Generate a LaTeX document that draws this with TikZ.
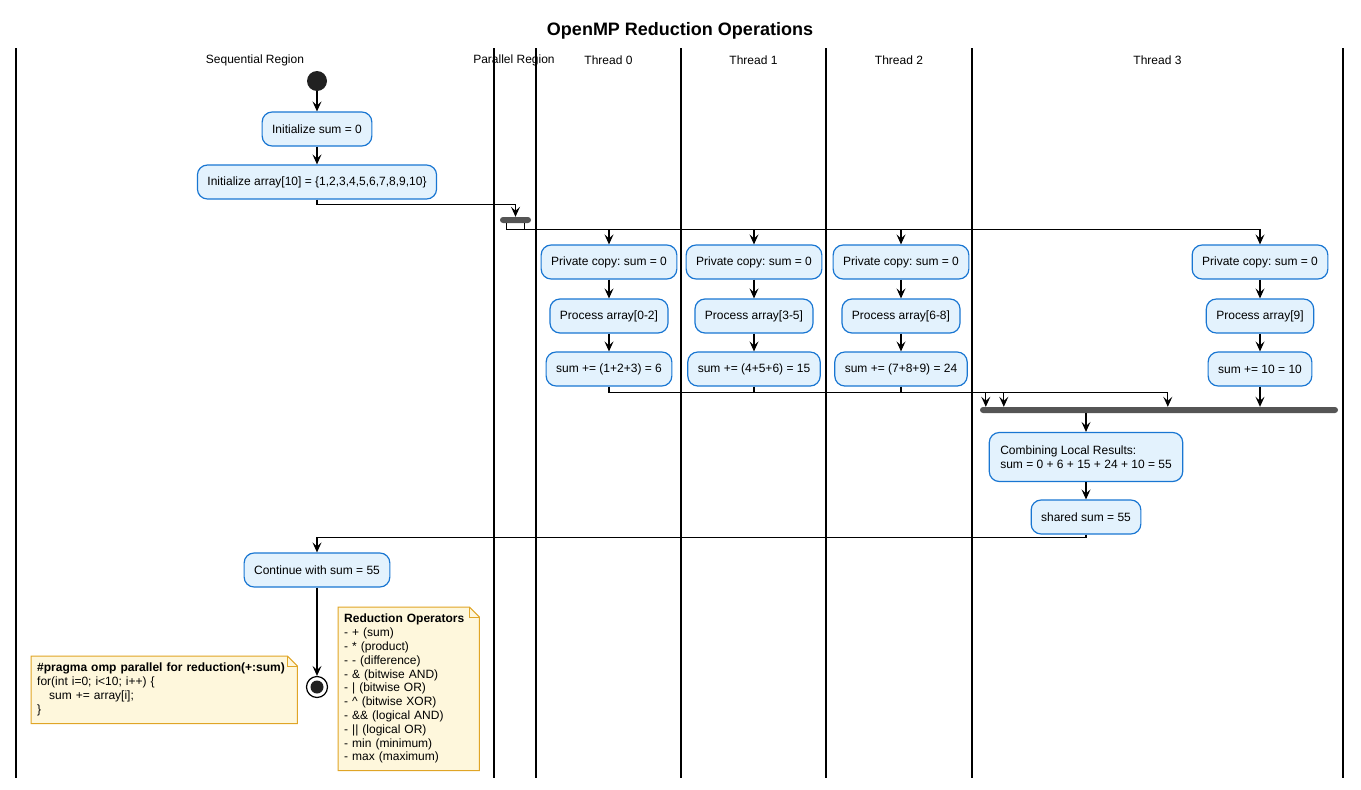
\documentclass[tikz,border=0pt]{standalone}
\usepackage{fontspec}
\setmainfont{Liberation Sans}
\usetikzlibrary{calc,arrows.meta,backgrounds}
\frenchspacing

\definecolor{actfill}{HTML}{E3F2FD}
\definecolor{actline}{HTML}{1976D2}
\definecolor{notefill}{HTML}{FEF7DC}
\definecolor{noteline}{HTML}{E0A526}
\definecolor{barfill}{HTML}{555555}

\begin{document}
\begin{tikzpicture}[x=1pt,y=-1pt,
	font=\fontsize{12}{14}\selectfont,
	action/.style={draw=actline,fill=actfill,line width=1.2pt,rounded corners=10pt,minimum height=34pt,inner xsep=10pt},
	flow/.style={line width=1.2pt,-{Stealth[length=10pt,width=9pt,inset=4pt]}},
	syncbar/.style={fill=barfill,rounded corners=3pt,minimum height=6pt,inner sep=0pt},
	note/.style={anchor=north west,align=left,inner xsep=6pt,inner ysep=7pt},
	lane/.style={line width=1.2pt}]
\useasboundingbox (0,0) rectangle (1361,790);

\node[font=\fontsize{18}{20}\selectfont\bfseries] (title) at (680,31) {OpenMP Reduction Operations};

\foreach \x in {16,494,536,681,826,972,1343}
	{
	\draw[lane] (\x,48) -- (\x,778);
	}
\node (hseq) at (255,60) {Sequential Region};
\node (hpar) at (514,60) {Parallel Region};

\node[circle,fill=black!87,minimum size=20pt,inner sep=0pt] (start) at (317,81) {};
\node[action] (init) at (317,129) {Initialize sum = 0};
\node[action] (arr) at (317,182) {Initialize array[10] = \{1,2,3,4,5,6,7,8,9,10\}};
\node[syncbar,minimum width=31pt] (fork) at (515.5,220) {};

\foreach \i/\x/\hx/\rng/\res in {0/609/608.5/0-2/{(1+2+3) = 6},1/754/753.5/3-5/{(4+5+6) = 15},2/901/899/6-8/{(7+8+9) = 24},3/1260/1157.5/9/{10 = 10}}
	{
	\node (hth\i) at (\hx,60) {Thread \i};
	\node[action] (pc\i) at (\x,262) {Private copy: sum = 0};
	\node[action] (pa\i) at (\x,316) {Process array[\rng]};
	\node[action] (sa\i) at (\x,369) {sum += \res};
	\draw[flow] (pc\i) -- (pa\i);
	\draw[flow] (pa\i) -- (sa\i);
	}

\node[syncbar,minimum width=358pt] (join) at (1159,410) {};
\node[action,align=left,minimum height=49pt,inner xsep=11pt] (comb) at (1086,457) {Combining Local Results:\\sum = 0 + 6 + 15 + 24 + 10 = 55};
\node[action] (shared) at (1086,517) {shared sum = 55};
\node[action] (cont) at (317,570) {Continue with sum = 55};
\node[circle,draw,line width=1.2pt,fill=white,minimum size=21pt,inner sep=0pt,
	path picture={\fill[black!87] (path picture bounding box.center) circle (6.5pt);}] (stop) at (317,687) {};

\node[note,text width=254pt,minimum height=65pt] (n1) at (31,656)
	{\textbf{\#pragma omp parallel for reduction(+:sum)}\\for(int i=0; i<10; i++) \{\\\hspace*{12pt}sum += array[i];\\\}};
\node[note,text width=129pt,minimum height=161pt,font=\fontsize{12}{13.8}\selectfont] (n2) at (338,607)
	{\textbf{Reduction Operators}\\- + (sum)\\- * (product)\\- - (difference)\\- \& (bitwise AND)\\- | (bitwise OR)\\- \textasciicircum{} (bitwise XOR)\\- \&\& (logical AND)\\- || (logical OR)\\- min (minimum)\\- max (maximum)};
\begin{scope}[on background layer]
\foreach \n in {n1,n2}
	{
	\draw[draw=noteline,fill=notefill,line width=1pt] (\n.north west) -- ($(\n.north east)+(-10,0)$)
		-- ($(\n.north east)+(0,10)$) -- (\n.south east) -- (\n.south west) -- cycle;
	\draw[draw=noteline,line width=1pt] ($(\n.north east)+(-10,0)$) -- ++(0,10) -- ++(10,0);
	}
\end{scope}

\draw[flow] (start) -- (init);
\draw[flow] (init) -- (arr);
\draw[flow] (arr.south) -- ++(0,5) -| (fork.north);
\draw[flow] ([xshift=-9pt]fork.south) -- ++(0,6) -| (pc0.north);
\foreach \i in {1,2,3}
	{
	\draw[flow] ([xshift=9pt]fork.south) -- ++(0,6) -| (pc\i.north);
	}
\draw[flow] (sa0.south) -- ++(0,6) -| ($(join.north west)+(6,0)$);
\draw[flow] (sa1.south) -- ++(0,6) -| ($(join.north west)+(24,0)$);
\draw[flow] (sa2.south) -- ++(0,6) -| ($(join.north west)+(188,0)$);
\draw[flow] (sa3) -- (sa3 |- join.north);
\draw[flow] (join.south -| comb.north) -- (comb.north);
\draw[flow] (comb) -- (shared);
\draw[flow] (shared.south) -- ++(0,3) -| (cont.north);
\draw[flow] (cont) -- (stop);
\end{tikzpicture}
\end{document}
